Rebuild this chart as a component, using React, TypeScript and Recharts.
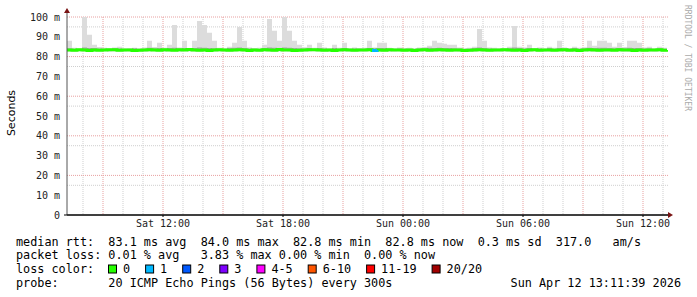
import { Area, CartesianGrid, ComposedChart, Line, XAxis, YAxis } from "recharts";

// 5-minute probes averaged to 15-minute steps, starting Sat 07:12
const START_HOUR = 7.2;
const STEP_HOURS = 0.25;

// highest ping of each step (ms)
const rttMax = [
  88, 84.5, 84.2, 101, 91, 86, 84.8, 84.5, 84.3, 84.6,
  85, 84.4, 84.2, 84.5, 84.3, 84.6, 88, 84.8, 87, 84.5,
  86, 96, 84.6, 88, 84.4, 88, 98, 96, 92, 88,
  84.5, 84.3, 85, 87, 95, 88, 84.6, 84.4, 84.5, 86,
  99, 93, 88, 101, 93, 88, 86, 84.7, 86, 84.5,
  87, 84.6, 84.4, 86, 84.5, 87, 84.3, 84.6, 84.4, 84.5,
  88, 84.6, 87, 87, 84.5, 84.3, 84.6, 84.4, 84.5, 84.3,
  84.6, 84.8, 85.5, 88, 87, 86.5, 86, 86, 84.6, 84.4,
  84.5, 85, 94, 88, 84.6, 84.5, 84.3, 84.4, 85, 95.5,
  85, 84.6, 86, 84.4, 84.6, 84.3, 85, 84.5, 88, 84.6,
  84.4, 85, 84.5, 84.7, 88, 85.5, 88, 88, 87, 85,
  87, 84.8, 88, 88, 87, 84.6, 85, 84.4, 85, 84.5,
  84.3,
];

// upper inner smoke band (ms)
const rttUpper = [
  84.2, 84.0, 83.9, 84.6, 84.4, 84.3, 84.1, 84.0, 83.9, 84.2,
  84.1, 83.9, 84.0, 84.2, 83.9, 84.0, 84.5, 84.2, 84.4, 84.0,
  84.3, 84.5, 84.1, 84.4, 83.9, 84.3, 84.6, 84.5, 84.4, 84.2,
  84.0, 83.9, 84.3, 84.5, 84.6, 84.4, 84.1, 84.0, 83.9, 84.3,
  84.6, 84.5, 84.4, 84.6, 84.5, 84.3, 84.2, 84.1, 84.3, 84.0,
  84.4, 84.1, 83.9, 84.3, 84.0, 84.4, 83.9, 84.1, 84.0, 84.0,
  84.3, 84.2, 84.4, 84.3, 84.0, 83.9, 84.1, 84.0, 84.0, 83.9,
  84.1, 84.2, 84.5, 84.4, 84.5, 84.3, 84.3, 84.2, 84.1, 83.9,
  84.0, 84.3, 84.6, 84.4, 84.1, 84.0, 83.9, 84.0, 84.2, 84.6,
  84.3, 84.1, 84.4, 84.0, 84.1, 83.9, 84.3, 84.0, 84.4, 84.1,
  84.0, 84.3, 84.0, 84.2, 84.5, 84.4, 84.5, 84.5, 84.4, 84.2,
  84.4, 84.2, 84.5, 84.4, 84.3, 84.1, 84.2, 83.9, 84.2, 84.0,
  83.9,
];

// lowest ping of each step (ms)
const rttMin = [
  82.6, 82.5, 82.7, 82.6, 82.5, 82.6, 82.6, 82.7, 82.5, 82.6,
  82.5, 82.6, 82.7, 82.6, 82.6, 82.5, 82.6, 82.7, 82.6, 82.5,
  82.6, 82.6, 82.5, 82.7, 82.6, 82.6, 82.5, 82.6, 82.7, 82.6,
  82.6, 82.5, 82.6, 82.6, 82.7, 82.6, 82.5, 82.6, 82.6, 82.7,
  82.6, 82.5, 82.6, 82.7, 82.6, 82.6, 82.5, 82.6, 82.6, 82.7,
  82.6, 82.6, 82.5, 82.6, 82.7, 82.6, 82.6, 82.5, 82.6, 82.6,
  82.7, 82.5, 82.6, 82.6, 82.5, 82.6, 82.7, 82.6, 82.6, 82.5,
  82.6, 82.7, 82.6, 82.5, 82.6, 82.6, 82.7, 82.6, 82.5, 82.6,
  82.6, 82.5, 82.7, 82.6, 82.6, 82.5, 82.6, 82.7, 82.6, 82.6,
  82.5, 82.6, 82.6, 82.7, 82.6, 82.5, 82.6, 82.6, 82.7, 82.6,
  82.6, 82.5, 82.6, 82.7, 82.6, 82.6, 82.5, 82.6, 82.6, 82.7,
  82.6, 82.6, 82.5, 82.6, 82.6, 82.7, 82.6, 82.5, 82.6, 82.6,
  82.6,
];

// median rtt (ms)
const rttMedian = [
  83.3, 83.2, 83.4, 83.3, 83.1, 83.3, 83.2, 83.3, 83.5, 83.4,
  83.2, 83.3, 83.3, 83.1, 83.2, 83.3, 83.4, 83.3, 83.2, 83.5,
  83.3, 83.2, 83.4, 83.3, 83.6, 83.3, 83.2, 83.3, 83.1, 83.3,
  83.4, 83.3, 83.2, 83.3, 83.5, 83.3, 83.1, 83.3, 83.2, 83.4,
  83.3, 83.2, 83.6, 83.3, 83.3, 83.1, 83.2, 83.3, 83.4, 83.5,
  83.3, 83.2, 83.3, 83.1, 83.3, 83.4, 83.3, 83.2, 83.3, 83.3,
  83.5, 83.1, 83.3, 83.2, 83.4, 83.3, 83.3, 83.2, 83.3, 83.1,
  83.3, 83.4, 83.2, 83.3, 83.5, 83.3, 83.2, 83.3, 83.3, 83.1,
  83.2, 83.3, 83.4, 83.3, 83.2, 83.3, 83.3, 83.5, 83.3, 83.2,
  83.3, 83.1, 83.3, 83.4, 83.2, 83.3, 83.3, 83.2, 83.3, 83.4,
  83.2, 83.3, 83.1, 83.3, 83.5, 83.3, 83.2, 83.3, 83.3, 83.2,
  83.4, 83.3, 83.3, 83.1, 83.3, 83.2, 83.3, 83.3, 83.4, 83.2,
  83.3,
];

// lost pings per step (out of 20)
const lossCount = [
  0, 0, 0, 0, 0, 0, 0, 0, 0, 0,
  0, 0, 0, 0, 0, 0, 0, 0, 0, 0,
  0, 0, 0, 0, 0, 0, 0, 0, 0, 0,
  0, 0, 0, 0, 0, 0, 0, 0, 0, 0,
  0, 0, 0, 0, 0, 0, 0, 0, 0, 0,
  0, 0, 0, 0, 0, 0, 0, 0, 0, 0,
  0, 1, 0, 0, 0, 0, 0, 0, 0, 0,
  0, 0, 0, 0, 0, 0, 0, 0, 0, 0,
  0, 0, 0, 0, 0, 0, 0, 0, 0, 0,
  0, 0, 0, 0, 0, 0, 0, 0, 0, 0,
  0, 0, 0, 0, 0, 0, 0, 0, 0, 0,
  0, 0, 0, 0, 0, 0, 0, 0, 0, 0,
  0,
];

const xTicks = [12, 18, 24, 30, 36];
const xTickLabels = ["Sat 12:00", "Sat 18:00", "Sun 00:00", "Sun 06:00", "Sun 12:00"];
const yTicks = [0, 10, 20, 30, 40, 50, 60, 70, 80, 90, 100];

const lossColors = ["#26ff00", "#00b8ff", "#0059ff", "#7e00ff", "#ff00ff", "#ff5500", "#ff0000", "#a10000"];
const lossLabels = ["0", "1", "2", "3", "4-5", "6-10", "11-19", "20/20"];

const legendLines = [
  "median rtt:  83.1 ms avg  84.0 ms max  82.8 ms min  82.8 ms now  0.3 ms sd  317.0   am/s",
  "packet loss: 0.01 % avg   3.83 % max 0.00 % min  0.00 % now",
  "loss color:",
  "probe:       20 ICMP Echo Pings (56 Bytes) every 300s",
];
const stampText = "Sun Apr 12 13:11:39 2026";

const data = rttMedian.map((median, i) => ({
  t: START_HOUR + i * STEP_HOURS,
  smoke: [rttMin[i], rttMax[i]],
  inner: [median, rttUpper[i]],
  median,
  lossMedian: lossCount[i] > 0 || (i > 0 && lossCount[i - 1] > 0) ? median : null,
}));

const minorV: number[] = [];
const majorV: number[] = [];
for (let h = 8; h <= 37; h++) (h % 3 === 0 ? majorV : minorV).push(h);

const MONO = "DejaVu Sans Mono";
const CHAR_W = 7.1;

export default function App() {
  let lx = 108.5;
  const legendItems = lossLabels.map((label, i) => {
    const item = { x: lx, label, color: lossColors[i] };
    lx += 14.5 + label.length * CHAR_W + 15.5;
    return item;
  });

  return (
    <div style={{ position: "absolute", left: 0, top: 0, width: 697, height: 297, background: "#fff" }}>
      <ComposedChart width={697} height={230} data={data} margin={{ top: 17, right: 29, bottom: 0, left: 0 }}>
        <CartesianGrid
          stroke="#cfcfcf"
          strokeDasharray="1 1"
          horizontalValues={[5, 15, 25, 35, 45, 55, 65, 75, 85, 95]}
          verticalValues={minorV}
        />
        <CartesianGrid
          stroke="#e8a0a0"
          strokeDasharray="1 1"
          horizontalValues={[10, 20, 30, 40, 50, 60, 70, 80, 90, 100]}
          verticalValues={majorV}
        />
        <XAxis
          type="number"
          dataKey="t"
          domain={[START_HOUR, 37.25]}
          ticks={xTicks}
          tickFormatter={(v) => xTickLabels[xTicks.indexOf(v)] ?? ""}
          allowDataOverflow
          height={15}
          stroke="#000"
          tickSize={2}
          tickMargin={3}
          tick={{ fontFamily: MONO, fontSize: 10, fill: "#222" }}
        />
        <YAxis
          type="number"
          domain={[0, 100]}
          ticks={yTicks}
          tickFormatter={(v) => (v === 0 ? "0" : `${v} m`)}
          allowDataOverflow
          width={67}
          stroke="#555"
          tickLine={false}
          tickSize={3}
          tickMargin={4}
          tick={{ fontFamily: MONO, fontSize: 10, fill: "#222" }}
        />
        <Area
          type="stepAfter"
          dataKey="smoke"
          fill="#dcdcdc"
          fillOpacity={1}
          stroke="none"
          isAnimationActive={false}
        />
        <Area
          type="stepAfter"
          dataKey="inner"
          fill="#a6a6a6"
          fillOpacity={1}
          stroke="none"
          isAnimationActive={false}
        />
        <Line
          type="stepAfter"
          dataKey="median"
          stroke={lossColors[0]}
          strokeWidth={3}
          dot={false}
          isAnimationActive={false}
        />
        <Line
          type="stepAfter"
          dataKey="lossMedian"
          stroke={lossColors[1]}
          strokeWidth={3}
          dot={false}
          connectNulls={false}
          isAnimationActive={false}
        />
      </ComposedChart>

      <svg width={697} height={297} style={{ position: "absolute", left: 0, top: 0, pointerEvents: "none" }}>
        {/* axis arrows */}
        <line x1={67} y1={17} x2={67} y2={11} stroke="#555" />
        <polygon points="64,13 70,13 67,8" fill="#7a1414" />
        <line x1={64} y1={215} x2={668} y2={215} stroke="#000" />
        <polygon points="668,212 668,218 673,215" fill="#7a1414" />

        <text
          x={15}
          y={113}
          transform="rotate(-90 15 113)"
          textAnchor="middle"
          fontFamily="DejaVu Sans"
          fontSize={11}
          fill="#000"
        >
          Seconds
        </text>
        <text
          x={685}
          y={5}
          transform="rotate(90 685 5)"
          fontFamily={MONO}
          fontSize={8}
          fill="#aaa"
        >
          RRDTOOL / TOBI OETIKER
        </text>

        {legendLines.map((line, i) => (
          <text
            key={i}
            x={16}
            y={245.5 + i * 13.9}
            fontFamily={MONO}
            fontSize={11.8}
            fill="#000"
            style={{ whiteSpace: "pre" }}
          >
            {line}
          </text>
        ))}
        {legendItems.map((it) => (
          <g key={it.label}>
            <rect x={it.x} y={265} width={8} height={8} fill={it.color} stroke="#000" strokeWidth={1} />
            <text x={it.x + 14.5} y={273.3} fontFamily={MONO} fontSize={11.8} fill="#000">
              {it.label}
            </text>
          </g>
        ))}
        <text x={681} y={287.2} textAnchor="end" fontFamily={MONO} fontSize={11.8} fill="#000">
          {stampText}
        </text>
      </svg>
    </div>
  );
}
